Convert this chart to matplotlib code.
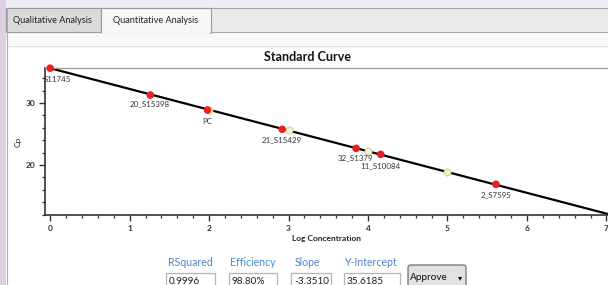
import numpy as np
import matplotlib.pyplot as plt
from matplotlib.patches import Rectangle, FancyBboxPatch
from matplotlib.ticker import MultipleLocator

W, H = 608, 285

# sample wells (red) and standards (pale)
samples = ["S11745", "20_S15398", "PC", "21_S15429", "32_S1379", "11_S10084", "2_S7595"]
sample_conc = [0.0, 1.26, 1.98, 2.92, 3.85, 4.16, 5.61]
sample_cp = [35.62, 31.29, 28.87, 25.76, 22.69, 21.72, 16.89]
standard_conc = [2.0, 3.0, 4.0, 5.0]
standard_cp = [28.90, 25.60, 22.20, 18.90]

slope = -3.3510
intercept = 35.6185

stat_names = ["RSquared", "Efficiency", "Slope", "Y-Intercept"]
stat_values = ["0.9996", "98.80%", "-3.3510", "35.6185"]
tab_names = ["Qualitative Analysis", "Quantitative Analysis"]

# label offsets in pixels (layout only)
label_offsets = [(7, -11), (-1, -9), (0, -11), (0, -10), (-1, -9), (0, -11), (0, -10)]

plt.rcParams["font.family"] = ["Lato", "DejaVu Sans"]

fig = plt.figure(figsize=(W / 100, H / 100), dpi=100, facecolor="white")

# background "window" drawn in pixel coordinates
bg = fig.add_axes([0, 0, 1, 1])
bg.set_xlim(0, W)
bg.set_ylim(H, 0)
bg.axis("off")


def rect(x0, y0, x1, y1, fc, ec="none", lw=0.8, z=1):
    bg.add_patch(Rectangle((x0, y0), x1 - x0, y1 - y0, fc=fc, ec=ec, lw=lw, zorder=z))


rect(0, 0, W, 8, "#f1ebf3")
rect(0, 0, 6, H, "#ddd0e2")
rect(6, 8, W + 2, 32, "#e9e9e9", "#a3a3a3")
rect(6, 8, 101, 32, "#dadada", "#9a9a9a", z=2)
rect(101, 8, 211, 33, "#f6f6f6", "#9a9a9a", z=2)
rect(101.6, 31, 210.4, 34, "#f6f6f6", z=3)
rect(6.5, 33, W, 45, "#f8f8f8", z=1)
bg.plot([6.5, W], [45.5, 45.5], color="#e0e0e0", lw=1, zorder=2)
bg.plot([6.5, 6.5], [8, H], color="#b0a8b4", lw=0.8, zorder=2)

tab_centers = [52, 156]
for name, cx in zip(tab_names, tab_centers):
    bg.text(cx, 20.5, name, ha="center", va="center", fontsize=6.6, color="#222222", zorder=4)

bg.text(308, 57, "Standard Curve", ha="center", va="center", fontsize=9,
        fontweight="bold", color="#111111")

# statistics fields under the chart
label_cx = [190, 253, 307, 370]
box_left = [166, 229, 291, 344]
box_right = [215, 277, 331, 400]
for name, val, cx, x0, x1 in zip(stat_names, stat_values, label_cx, box_left, box_right):
    bg.text(cx, 263, name, ha="center", va="center", fontsize=7.6, color="#4a86c6")
    rect(x0, 273, x1, H + 5, "white", "#b4b4bc", lw=0.9, z=2)
    bg.text(x0 + 3, 282, val, ha="left", va="center", fontsize=7.2, color="#222222", zorder=3)

bg.add_patch(FancyBboxPatch((408, 265), 58, 26, boxstyle="round,pad=0,rounding_size=2.5",
                            fc="#e2e2e2", ec="#6f6f6f", lw=0.9, zorder=2))
bg.text(429, 277.5, "Approve", ha="center", va="center", fontsize=7.2, color="#111111", zorder=3)
bg.text(460, 277.5, "\u25be", ha="center", va="center", fontsize=6, color="#111111",
        family="DejaVu Sans", zorder=3)

# the curve itself
ax_l, ax_r, ax_t, ax_b = 45, 608, 68, 215
ax = fig.add_axes([ax_l / W, (H - ax_b) / H, (ax_r - ax_l) / W, (ax_b - ax_t) / H])
ax.set_facecolor("none")
ax.set_xlim(-0.065, 7.02)
ax.set_ylim(11.94, 35.65)

fit_x = np.array([0.0, ax.get_xlim()[1]])
ax.plot(fit_x, intercept + slope * fit_x, color="black", lw=1.6, zorder=2, clip_on=False)

ax.scatter(standard_conc, standard_cp, s=26, fc="#f6f2cc", ec="#c9c3a2", lw=0.6, zorder=3)
ax.scatter(sample_conc, sample_cp, s=30, fc="#ee1f1f", ec="none", zorder=4, clip_on=False)

for name, x, y, off in zip(samples, sample_conc, sample_cp, label_offsets):
    ax.annotate(name, xy=(x, y), xytext=off, textcoords="offset pixels",
                ha="center", va="center", fontsize=5.7, color="#33333f", zorder=5,
                annotation_clip=False)

ax.xaxis.set_major_locator(MultipleLocator(1))
ax.xaxis.set_minor_locator(MultipleLocator(0.2))
ax.yaxis.set_major_locator(MultipleLocator(10))
ax.yaxis.set_minor_locator(MultipleLocator(2))
ax.tick_params(which="major", length=4, width=1, color="#333333", labelsize=6,
               labelcolor="#333333", pad=3)
ax.tick_params(which="minor", length=2.5, width=0.9, color="#333333")
for lab in ax.get_xticklabels() + ax.get_yticklabels():
    lab.set_fontweight("bold")

ax.spines["left"].set_color("#333333")
ax.spines["bottom"].set_color("#333333")
ax.spines["left"].set_linewidth(1.2)
ax.spines["bottom"].set_linewidth(1.2)
ax.spines["top"].set_color("#9a9a9a")
ax.spines["top"].set_linewidth(0.9)
ax.spines["right"].set_visible(False)

ax.set_xlabel("Log Concentration", fontsize=6, fontweight="bold", color="#222222", labelpad=2)
ax.set_ylabel("Cp", fontsize=6, color="#222222", labelpad=3)

fig.savefig("out.png", dpi=100)
